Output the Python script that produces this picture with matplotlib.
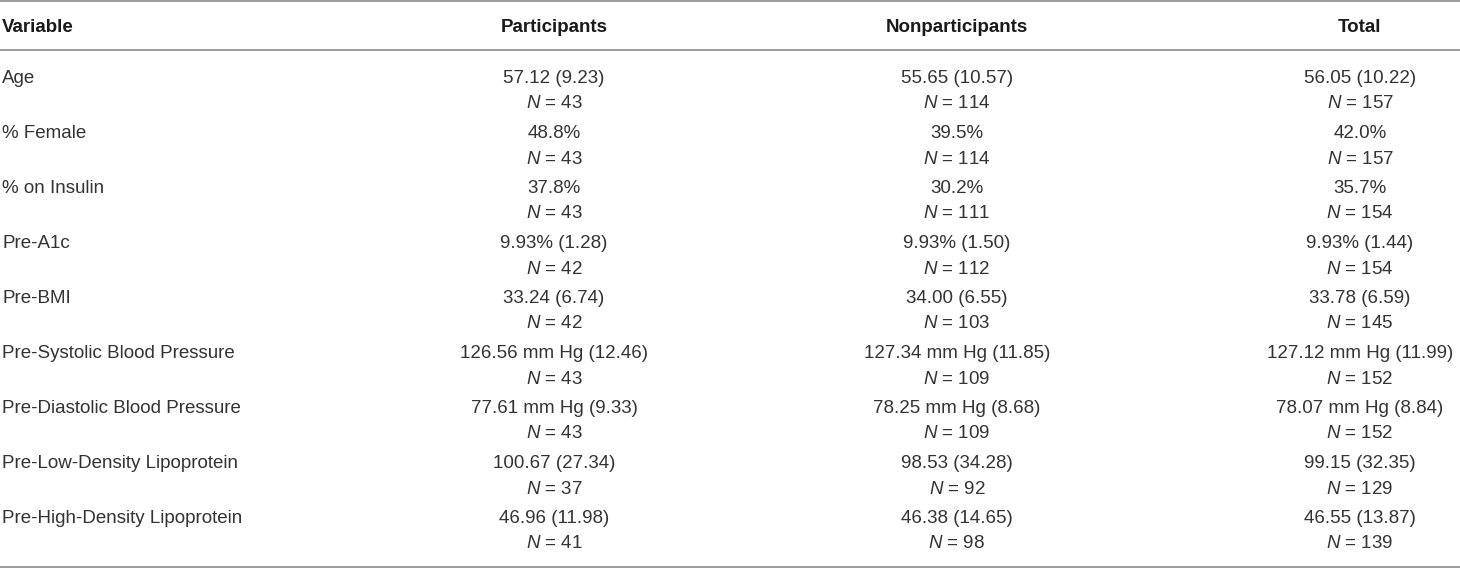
import matplotlib
matplotlib.use("Agg")
import matplotlib.pyplot as plt

plt.rcParams['font.family'] = ['Liberation Sans', 'DejaVu Sans']
plt.rcParams['mathtext.fontset'] = 'custom'
plt.rcParams['mathtext.it'] = 'Liberation Sans:italic'
plt.rcParams['mathtext.rm'] = 'Liberation Sans'

# Table content
headers = ["Variable", "Participants", "Nonparticipants", "Total"]
variables = ["Age", "% Female", "% on Insulin", "Pre-A1c", "Pre-BMI",
             "Pre-Systolic Blood Pressure", "Pre-Diastolic Blood Pressure",
             "Pre-Low-Density Lipoprotein", "Pre-High-Density Lipoprotein"]
participants = ["57.12 (9.23)", "48.8%", "37.8%", "9.93% (1.28)", "33.24 (6.74)",
                "126.56 mm Hg (12.46)", "77.61 mm Hg (9.33)", "100.67 (27.34)",
                "46.96 (11.98)"]
participants_n = [43, 43, 43, 42, 42, 43, 43, 37, 41]
nonparticipants = ["55.65 (10.57)", "39.5%", "30.2%", "9.93% (1.50)", "34.00 (6.55)",
                   "127.34 mm Hg (11.85)", "78.25 mm Hg (8.68)", "98.53 (34.28)",
                   "46.38 (14.65)"]
nonparticipants_n = [114, 114, 111, 112, 103, 109, 109, 92, 98]
total = ["56.05 (10.22)", "42.0%", "35.7%", "9.93% (1.44)", "33.78 (6.59)",
         "127.12 mm Hg (11.99)", "78.07 mm Hg (8.84)", "99.15 (32.35)",
         "46.55 (13.87)"]
total_n = [157, 157, 154, 154, 145, 152, 152, 129, 139]

W, H = 1460, 568
fig = plt.figure(figsize=(W / 100, H / 100), dpi=100)
ax = fig.add_axes([0, 0, 1, 1])
ax.set_xlim(0, W)
ax.set_ylim(H, 0)
ax.axis('off')

line_color = '#9a9a9a'
text_color = '#333333'
fs = 13.5

# rules
for y in [1.2, 50, 566.5]:
    ax.plot([0, W], [y, y], color=line_color, lw=1.4, solid_capstyle='butt')

col_x = [2, 554, 957, 1360]
header_y = 32
ax.text(col_x[0], header_y, headers[0], ha='left', va='baseline',
        fontsize=fs, fontweight='bold', color='#1a1a1a')
for x, h in zip(col_x[1:], headers[1:]):
    ax.text(x, header_y, h, ha='center', va='baseline',
            fontsize=fs, fontweight='bold', color='#1a1a1a')

row0 = 83
step = 55
n_off = 25.5
cols = [(participants, participants_n), (nonparticipants, nonparticipants_n),
        (total, total_n)]
for i, var in enumerate(variables):
    y = row0 + i * step
    ax.text(col_x[0], y, var, ha='left', va='baseline', fontsize=fs, color=text_color)
    for x, (vals, ns) in zip(col_x[1:], cols):
        ax.text(x, y, vals[i], ha='center', va='baseline', fontsize=fs, color=text_color)
        ax.text(x, y + n_off, r"$\mathit{N}$" + f" = {ns[i]}", ha='center',
                va='baseline', fontsize=fs, color=text_color)

fig.savefig("out.png", dpi=100)
